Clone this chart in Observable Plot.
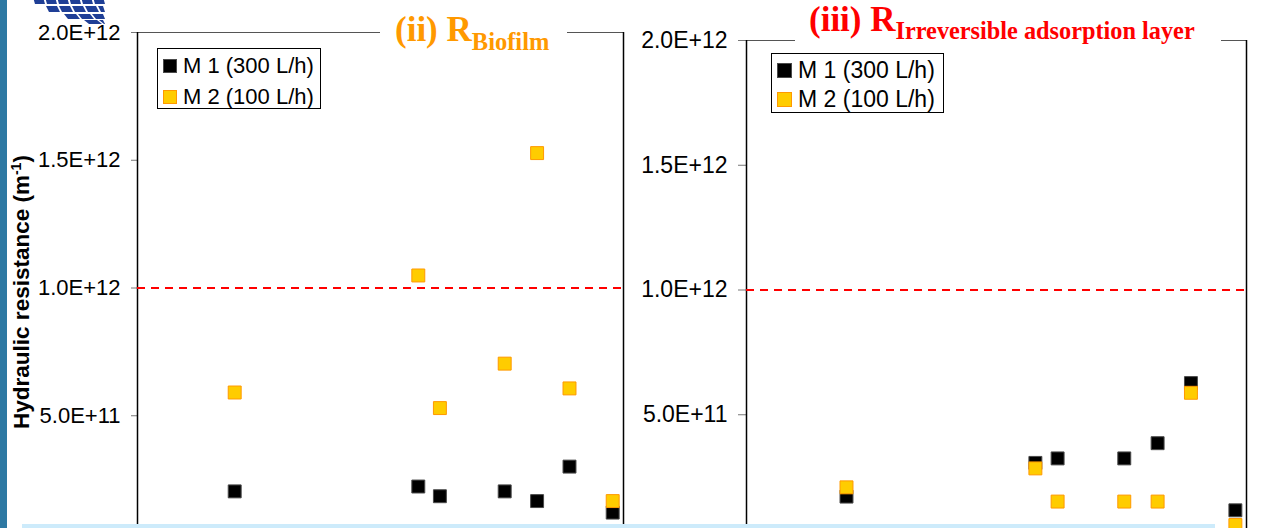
<!DOCTYPE html>
<html><head><meta charset="utf-8">
<script src="https://cdn.jsdelivr.net/npm/d3@7"></script>
<script src="https://cdn.jsdelivr.net/npm/@observablehq/plot@0.6"></script>
<style>
html,body{margin:0;padding:0;background:#fff;overflow:hidden;}
#root{position:relative;width:1266px;height:528px;overflow:hidden;font-family:"Liberation Sans",Arial,sans-serif;color:#000;}
.panel{position:absolute;top:0;}
.panel svg{overflow:visible;background:transparent;}
[aria-label="y-axis tick"]{stroke:#777;}
[aria-label="y-axis"] .tick line{stroke:#777;}
.legend{position:absolute;border:1px solid #000;background:#fff;box-sizing:border-box;}
.legend .row{position:absolute;left:0;height:26px;display:flex;align-items:center;white-space:nowrap;}
.legend .sw{box-sizing:border-box;flex:none;}
.title{position:absolute;background:#fff;font-family:"Liberation Serif","Times New Roman",serif;font-weight:bold;white-space:nowrap;box-sizing:border-box;line-height:40px;}
.title .sub{position:relative;line-height:1;}
#ylab{position:absolute;left:22px;top:292px;transform:translate(-50%,-50%) rotate(-90deg);font-weight:bold;font-size:22.5px;white-space:nowrap;}
#ylab sup{font-size:14px;vertical-align:super;line-height:0;}
#bar{position:absolute;left:0;top:0;width:7px;height:528px;background:#2e79a3;z-index:5;}
#band{position:absolute;left:22px;top:524px;width:1193px;height:4px;background:#cdebfb;z-index:5;}
#logo{position:absolute;left:0;top:0;}
</style>
</head><body>
<div id="root">
  <svg id="logo" width="120" height="40"></svg>
</div>
<script>
// ---- data ----
const days = [9, 26, 28, 34, 37, 40, 44];
const biofilmM1 = [0.204, 0.223, 0.185, 0.204, 0.166, 0.301, 0.121]; // x 1e12 m^-1
const biofilmM2 = [0.591, 1.049, 0.530, 0.704, 1.528, 0.607, 0.166];
const irrevM1 = [0.172, 0.307, 0.325, 0.325, 0.386, 0.627, 0.117];
const irrevM2 = [0.209, 0.285, 0.152, 0.152, 0.152, 0.588, 0.058];
const unit = 1e12;
const yTicks = [0.5e12, 1.0e12, 1.5e12, 2.0e12];
const threshold = [1.0e12];
const seriesNames = ["M 1 (300 L/h)", "M 2 (100 L/h)"];
const seriesFill = ["#000000", "#FFCC00"];
const seriesStroke = ["#4a4a4a", "#FF9900"];
const titleMain = ["(ii) R", "(iii) R"];
const titleSub = ["Biofilm", "Irreversible adsorption layer"];
const titleColor = ["#FF9900", "#FF0000"];
const yLabel = "Hydraulic resistance (m";
const yLabelSup = "-1";

const root = document.getElementById("root");

// decorative logo fragment
(function(){
  const svg = document.getElementById("logo");
  const rows = [
    {y:-3, h:7, x0:33, w:10},
    {y:6, h:6, x0:46, w:11},
    {y:14, h:5, x0:64, w:12},
    {y:20, h:4, x0:84, w:13}
  ];
  let s = "";
  rows.forEach((r, ri) => {
    for (let x = r.x0; x < 100; x += r.w + 2) {
      const x2 = Math.min(x + r.w, 103);
      const sk = 2 + ri;
      s += `<polygon points="${x},${r.y} ${x2},${r.y} ${Math.min(x2+sk,105)},${r.y+r.h} ${x+sk},${r.y+r.h}" fill="#1f3f96"/>`;
    }
  });
  svg.innerHTML = s;
})();

function panel(m1, m2, o) {
  const data = [
    ...days.map((d, i) => ({day: d, value: m1[i] * unit, s: 0})),
    ...days.map((d, i) => ({day: d, value: m2[i] * unit, s: 1}))
  ];
  return Plot.plot({
    width: o.width, height: o.height,
    marginLeft: o.ml, marginRight: o.mr, marginTop: o.mt, marginBottom: o.mb,
    style: {fontFamily: "Liberation Sans, Arial, sans-serif", fontSize: o.fs + "px", color: "#000", background: "transparent", overflow: "visible"},
    x: {domain: [0, 45], axis: null},
    y: {domain: [0, 2e12], ticks: yTicks, tickFormat: d => d.toExponential(1).toUpperCase(), tickSize: o.ts, tickPadding: o.tp, label: null},
    color: {type: "identity"},
    marks: [
      Plot.ruleY([2e12], {stroke: "#555", strokeWidth: 1.2}),
      Plot.ruleX([0], {stroke: "#000", strokeWidth: 1.5}),
      Plot.ruleX([45], {stroke: "#000", strokeWidth: 1.5}),
      Plot.ruleY(threshold, {stroke: "#FF0000", strokeWidth: 2, strokeDasharray: "8,6"}),
      Plot.dot(data, {x: "day", y: "value", symbol: "square", r: 7.3,
        fill: d => seriesFill[d.s], stroke: d => seriesStroke[d.s], strokeWidth: 1})
    ]
  });
}

function addPanel(left, chart) {
  const d = document.createElement("div");
  d.className = "panel";
  d.style.left = left + "px";
  d.appendChild(chart);
  root.appendChild(d);
}

addPanel(0, panel(biofilmM1, biofilmM2, {width: 630, height: 573, ml: 137, mr: 7, mt: 32, mb: 30, fs: 22, ts: 6, tp: 11}));
addPanel(630, panel(irrevM1, irrevM2, {width: 636, height: 569, ml: 116, mr: 20, mt: 40, mb: 30, fs: 23, ts: 8, tp: 11}));

function addLegend(o) {
  const b = document.createElement("div");
  b.className = "legend";
  Object.assign(b.style, {left: o.x + "px", top: o.y + "px", width: o.w + "px", height: o.h + "px"});
  seriesNames.forEach((name, i) => {
    const r = document.createElement("div");
    r.className = "row";
    r.style.top = (o.cy[i] - 13 - 1) + "px";
    const sw = document.createElement("div");
    sw.className = "sw";
    Object.assign(sw.style, {width: o.sq + "px", height: o.sq + "px", marginLeft: o.sqx + "px",
      background: seriesFill[i], border: "1px solid " + seriesStroke[i]});
    const t = document.createElement("span");
    t.textContent = name;
    Object.assign(t.style, {fontSize: o.fs + "px", marginLeft: o.gap + "px"});
    r.appendChild(sw); r.appendChild(t);
    b.appendChild(r);
  });
  root.appendChild(b);
}
addLegend({x: 157, y: 48, w: 164, h: 61, cy: [18, 49], sq: 14, sqx: 5, gap: 6, fs: 22});
addLegend({x: 771, y: 53, w: 173, h: 60, cy: [17, 46], sq: 15, sqx: 5, gap: 6, fs: 23});

function addTitle(i, o) {
  const t = document.createElement("div");
  t.className = "title";
  Object.assign(t.style, {left: o.x + "px", top: o.y + "px", width: o.w + "px", height: o.h + "px",
    paddingLeft: o.pl + "px", color: titleColor[i]});
  const m = document.createElement("span");
  m.textContent = titleMain[i];
  m.style.fontSize = o.fm + "px";
  const s = document.createElement("span");
  s.className = "sub";
  s.textContent = titleSub[i];
  s.style.fontSize = o.fsub + "px";
  s.style.top = o.dy + "px";
  t.appendChild(m); t.appendChild(s);
  root.appendChild(t);
}
addTitle(0, {x: 380, y: 10, w: 187, h: 40, pl: 15, fm: 35, fsub: 24.5, dy: 9});
addTitle(1, {x: 795, y: 0, w: 426, h: 44, pl: 14, fm: 35, fsub: 24.3, dy: 8});

const yl = document.createElement("div");
yl.id = "ylab";
yl.innerHTML = yLabel + "<sup>" + yLabelSup + "</sup>)";
root.appendChild(yl);

const bar = document.createElement("div"); bar.id = "bar"; root.appendChild(bar);
const band = document.createElement("div"); band.id = "band"; root.appendChild(band);
</script>
</body></html>
